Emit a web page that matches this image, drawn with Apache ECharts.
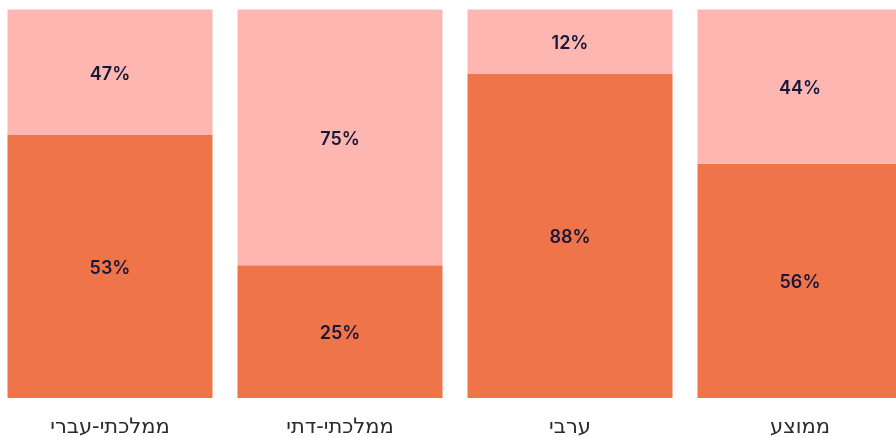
<!DOCTYPE html>
<html>
<head>
<meta charset="utf-8">
<script src="https://cdn.jsdelivr.net/npm/echarts@6/dist/echarts.min.js"></script>
<style>html,body{margin:0;padding:0;background:#fff;overflow:hidden}#c{width:920px;height:438px;margin-left:-5.5px}</style>
</head>
<body>
<div id="c"></div>
<script>
// Categories (left to right)
var categories = ['ממלכתי-עברי', 'ממלכתי-דתי', 'ערבי', 'ממוצע'];
// Segment heights as drawn in the picture (share of full bar height, %)
var bottomHeights = [67.7, 34.2, 83.5, 60.3];
var topHeights = [32.3, 65.8, 16.5, 39.7];
// Label texts printed on the segments
var bottomLabels = ['53%', '25%', '88%', '56%'];
var topLabels = ['47%', '75%', '12%', '44%'];

var chart = echarts.init(document.getElementById('c'), null, {renderer: 'canvas', width: 920, height: 438});
var labelStyle = {
  show: true,
  position: 'inside',
  color: '#17173a',
  fontFamily: 'Inter',
  fontWeight: 600,
  fontSize: 18,
  offset: [0, 2]
};
chart.setOption({
  animation: false,
  grid: {left: 0, right: 0, top: 9.5, height: 391, containLabel: false},
  xAxis: {
    type: 'category',
    data: categories,
    axisLine: {show: false},
    axisTick: {show: false},
    axisLabel: {
      color: '#2b2b2b',
      fontFamily: 'DejaVu Sans',
      fontSize: 21,
      margin: 19
    }
  },
  yAxis: {
    type: 'value',
    min: 0,
    max: 100,
    show: false,
    splitLine: {show: false}
  },
  series: [
    {
      type: 'bar',
      stack: 'total',
      data: bottomHeights,
      barWidth: 205,
      itemStyle: {color: '#F0744A'},
      label: Object.assign({}, labelStyle, {
        formatter: function (p) { return bottomLabels[p.dataIndex]; }
      })
    },
    {
      type: 'bar',
      stack: 'total',
      data: topHeights,
      barWidth: 205,
      itemStyle: {color: '#FDB7B0'},
      label: Object.assign({}, labelStyle, {
        formatter: function (p) { return topLabels[p.dataIndex]; }
      })
    }
  ]
});
</script>
</body>
</html>
